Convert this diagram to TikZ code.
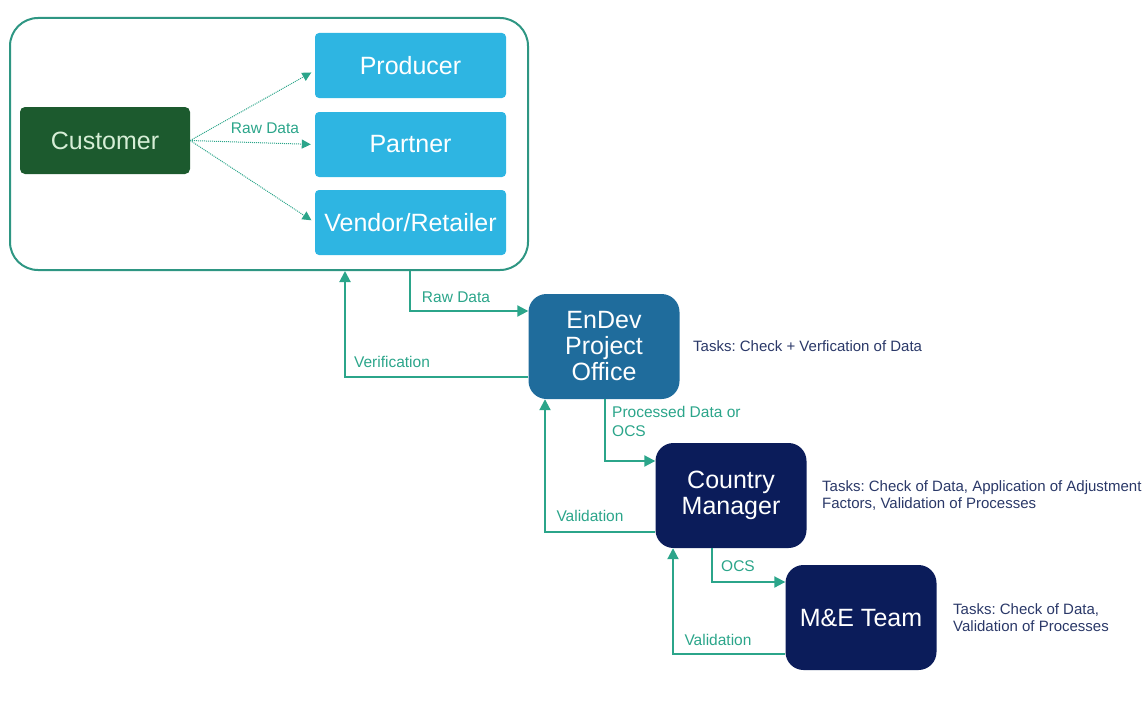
\documentclass[tikz,border=0pt]{standalone}
\usepackage{fontspec}
\setmainfont{Liberation Sans}
\usetikzlibrary{calc,positioning,arrows.meta}
\definecolor{flowTeal}{HTML}{2BA58A}
\definecolor{flowFrame}{HTML}{2E9683}
\definecolor{flowGreen}{HTML}{1C5A2E}
\definecolor{flowLeaf}{HTML}{D6EED6}
\definecolor{flowSky}{HTML}{2EB5E2}
\definecolor{flowSteel}{HTML}{1F6C9C}
\definecolor{flowNavy}{HTML}{0B1C5A}
\definecolor{flowInk}{HTML}{2A3868}
\frenchspacing
\begin{document}
\begin{tikzpicture}[x=1pt,y=-1pt,
  b/.style={draw=none,text=white,align=center,inner sep=0pt,
            font=\fontsize{25}{26}\selectfont},
  sky/.style={b,fill=flowSky,rounded corners=4pt,minimum width=191pt,minimum height=65pt},
  dk/.style={b,fill=flowNavy,rounded corners=18pt,minimum width=151pt,minimum height=105pt},
  lbl/.style={text=flowTeal,font=\fontsize{15.5}{19.5}\selectfont,align=left,inner sep=0pt},
  task/.style={text=flowInk,font=\fontsize{15}{17.5}\selectfont,align=left,inner sep=0pt,anchor=west},
  a/.style={-{Triangle[length=11pt,width=11pt]},flowTeal,line width=2pt},
  d/.style={-{Triangle[length=9pt,width=9pt]},flowTeal,line width=1pt,densely dotted,shorten >=4pt}]
  \useasboundingbox (0,0) rectangle (1142,701);
  \node[draw=flowFrame,line width=2pt,rounded corners=28pt,
        minimum width=518pt,minimum height=252pt] (grp) at (269,144) {};
  \node[b,fill=flowGreen,text=flowLeaf,rounded corners=5pt,
        minimum width=170pt,minimum height=67pt] (cust) at (105,140.5) {Customer};
  \node[sky] (prod) at (410.5,65.5)  {Producer};
  \node[sky] (part) at (410.5,144.5) {Partner};
  \node[sky] (vend) at (410.5,222.5) {Vendor/Retailer};
  \node[dk,fill=flowSteel] (endev) at (604,346.5) {EnDev\\Project\\Office};
  \node[dk] (cm) at (731,495.5) {Country\\Manager};
  \node[dk] (me) at (861,617.5) {M\&E Team};
  % customer to the three data sources
  \draw[d](cust.east)--([yshift=-5pt]prod.west);
  \draw[d](cust.east)--(part.west);
  \draw[d](cust.east)--(vend.west);
  \node[lbl] (rawa) at (265,128) {Raw Data};
  % flow down the chain
  \draw[a]([xshift=141pt]grp.south) |- ([yshift=35.5pt]endev.west);
  \draw[a]([yshift=-30.5pt]endev.west) -| ([xshift=76pt]grp.south);
  \draw[a]([xshift=1pt]endev.south) |- ([yshift=34.5pt]cm.west);
  \draw[a]([yshift=-36.5pt]cm.west) -| ([xshift=-59pt]endev.south);
  \draw[a]([xshift=-19pt]cm.south) |- ([yshift=35.5pt]me.west);
  \draw[a]([yshift=-36.5pt]me.west) -| ([xshift=-58pt]cm.south);
  \node[lbl] (rawb) at (456,297) {Raw Data};
  \node[lbl] (ver)  at (392,362) {Verification};
  \node[lbl,anchor=north west] (proc) at (612,406) {Processed Data or\\OCS};
  \node[lbl] (val1) at (590,516) {Validation};
  \node[lbl] (ocs)  at (738,566) {OCS};
  \node[lbl] (val2) at (718,640) {Validation};
  % tasks per role
  \node[task] (t1) at (693,346) {Tasks: Check + Verfication of Data};
  \node[task] (t2) at (822,495.5) {Tasks: Check of Data, Application of Adjustment\\Factors, Validation of Processes};
  \node[task] (t3) at (953,617.5) {Tasks: Check of Data,\\Validation of Processes};
\end{tikzpicture}
\end{document}
